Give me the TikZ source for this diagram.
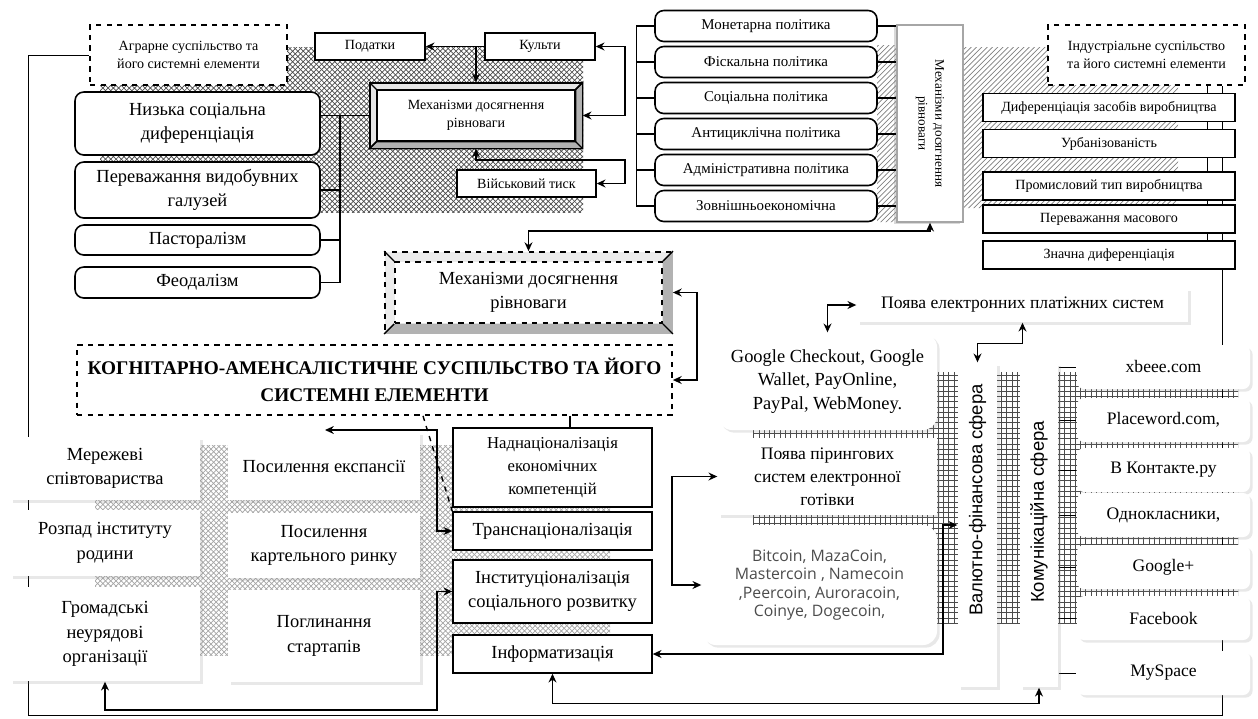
\documentclass[tikz,border=0pt]{standalone}
\usepackage{fontspec}
\setmainfont{Liberation Serif}
\newfontfamily\arialf{Liberation Sans}
\newfontfamily\opensf{Open Sans}
\usetikzlibrary{arrows.meta,calc,patterns,shadows,positioning}
\pgfdeclarelayer{back}
\pgfsetlayers{back,main}
\tikzset{
every picture/.style={line width=0.8pt},
sz/.style 2 args={minimum width=#1*0.02cm, minimum height=#2*0.02cm, inner sep=1pt},
fs/.style 2 args={font=\fontsize{#1}{#2}\selectfont},
sqbox/.style={draw, fill=white, align=center},
dashbox/.style={draw, dashed, line width=1.2pt, fill=white, align=center},
roundbox/.style={draw, fill=white, rounded corners=5pt, align=center, line width=0.9pt},
softbox/.style={fill=white, align=center, drop shadow={shadow xshift=1.5pt, shadow yshift=-1.5pt, opacity=0.18, fill=gray}},
sidetext/.style={font=\arialf\fontsize{10.5}{12}\selectfont}
}

\begin{document}
\begin{tikzpicture}[x=0.02cm, y=-0.02cm, >={Stealth[length=5pt,width=4.5pt]}]
\useasboundingbox (0,0) rectangle (1258,718);

% agrarian
\node[dashbox, sz={197}{60}, fs={8}{10}] (agr) at (188.5,55) {Аграрне суспільство та\\його системні елементи};
\node[sqbox, sz={110}{27}, fs={8}{10}] (tax) at (370,46.5) {Податки};
\node[sqbox, sz={110}{27}, fs={8}{10}] (cult) at (540,46.5) {Культи};
\node[sqbox, sz={139}{27}, fs={8}{10}] (war) at (526.5,183.5) {Військовий тиск};

\node[draw, fill=gray!20, sz={212}{65}] (mechA) at (476,115.5) {};
\fill[gray!60, draw=black] (mechA.north east) -- (mechA.south east) -- (mechA.south west) -- ++(7,-7) -- ($(mechA.south east)+(-7,-7)$) -- ($(mechA.north east)+(-7,7)$) -- cycle;
\node[draw, fill=white, sz={198}{51}, fs={8}{10.5}, align=center] (mechAtxt) at (mechA) {Механізми досягнення\\рівноваги};
\foreach \a in {north east,north west,south east,south west} \draw (mechA.\a) -- (mechAtxt.\a);

\foreach \n/\y/\h/\t in {low/123.5/63/{Низька соціальна\\диференціація}, mining/190/56/{Переважання видобувних\\галузей}, past/240/30/Пасторалізм, feud/282.5/31/Феодалізм}
  \node[roundbox, sz={245}{\h}, fs={10.5}{13.5}] (\n) at (197.5,\y) {\t};

% policies
\foreach \t [count=\i] in {Монетарна політика, Фіскальна політика, Соціальна політика, Антициклічна політика, Адміністративна політика, Зовнішньоекономічна}
  \node[roundbox, sz={222}{31}, fs={8.5}{10}] (pol\i) at (766,{26+36*(\i-1)}) {\t};
\node[draw=gray!70, fill=white, sz={66}{197}, drop shadow={shadow xshift=-1.5pt, shadow yshift=-1pt, opacity=0.3, fill=gray}] (mechV) at (930,123.5) {};
\node[rotate=-90, fs={7.5}{9.5}, align=center] at (mechV) {Механізми досягнення\\рівноваги};

% industrial
\node[dashbox, sz={197}{60}, fs={8}{10}] (ind) at (1146.5,55) {Індустріальне суспільство\\та його системні елементи};
\foreach \n/\y/\t in {ie1/107.5/Диференціація засобів виробництва, ie2/143.5/Урбанізованість, ie3/186/Промисловий тип виробництва, ie4/219/Переважання масового, ie5/255/Значна диференціація}
  \node[sqbox, line width=1.1pt, sz={252}{28}, fs={8}{10}] (\n) at (1109,\y) {\t};

% middle
\node[draw, dashed, line width=1pt, fill=gray!15, sz={287}{81}] (mechB) at (528.5,292.5) {};
\fill[gray!60] (mechB.north east) -- (mechB.south east) -- (mechB.south west) -- ++(10,-10) -- ($(mechB.south east)+(-10,-10)$) -- ($(mechB.north east)+(-10,10)$) -- cycle;
\node[draw, dashed, line width=1pt, fill=white, sz={267}{61}, fs={10.5}{14}, align=center] (mechBtxt) at (mechB) {Механізми досягнення\\рівноваги};
\foreach \a in {north east,north west,south east,south west} \draw (mechB.\a) -- (mechBtxt.\a);
\node[dashbox, line width=1pt, sz={595}{70}, font=\fontsize{11}{15}\selectfont\bfseries] (cog) at (374.5,380) {КОГНІТАРНО-АМЕНСАЛІСТИЧНЕ СУСПІЛЬСТВО ТА ЙОГО\\СИСТЕМНІ ЕЛЕМЕНТИ};

% cognitarian elements
\foreach \n/\x/\y/\w/\h/\t in {net/105/468.5/190/63/{Мережеві\\співтовариства}, exp/324/466/192/68/{Посилення експансії}, fam/105/543/190/66/{Розпад інституту\\родини}, cart/324/545.5/192/65/{Посилення\\картельного ринку}, ngo/105/634/190/94/{Громадські\\неурядові\\організації}, start/324/636/192/92/{Поглинання\\стартапів}}
  \node[softbox, sz={\w}{\h}, fs={10.5}{14}] (\n) at (\x,\y) {\t};

\node[sqbox, sz={199}{79}, fs={9.5}{13}] (supra) at (552.5,467.5) {Наднаціоналізація\\економічних\\компетенцій};
\node[sqbox, sz={199}{38}, fs={10.5}{13}] (trans) at (552.5,531) {Транснаціоналізація};
\node[sqbox, sz={199}{63}, fs={10.5}{14}] (inst) at (552.5,591.5) {Інституціоналізація\\соціального розвитку};
\node[sqbox, sz={199}{38}, fs={10.5}{13}] (inf) at (552.5,654) {Інформатизація};

% payments
\node[softbox, sz={331}{34}, fs={10}{12}] (emerge) at (1022.5,305) {Поява електронних платіжних систем};
\node[softbox, rounded corners=8pt, sz={219}{97}, fs={10.5}{13.5}] (gpay) at (827.5,381.5) {Google Checkout, Google\\Wallet, PayOnline,\\PayPal, WebMoney.};
\node[softbox, sz={219}{77}, fs={10}{13}] (p2p) at (827.5,476.5) {Поява пірингових\\систем електронної\\готівки};
\node[softbox, rounded corners=8pt, sz={235}{120}, font=\opensf\fontsize{9}{10.5}\selectfont, text=gray!60!black] (btc) at (819.5,585) {Bitcoin, MazaCoin,\\Mastercoin , Namecoin\\,Peercoin, Auroracoin,\\Coinye, Dogecoin,};

\node[softbox, sz={39}{324}] (val) at (977.5,525) {};
\node[rotate=90, sidetext] at (977.5,500) {Валютно-фінансова сфера};
\node[softbox, sz={38}{324}] (com) at (1039,525) {};
\node[rotate=90, sidetext] at (1039,512) {Комунікаційна сфера};

\foreach \t/\y [count=\i] in {xbeee.com/367, {Placeword.com,}/420, В Контакте.ру/470, {Однокласники,}/515, Google+/567, Facebook/618, MySpace/673}
  \node[softbox, rounded corners=4pt, sz={173}{44}, fs={10}{12}] (soc\i) at (1163.5,\y) {\t};

% connectors
\coordinate (bx) at (340,0);
\coordinate (rb1) at (625,115.5);
\coordinate (rb2) at (625,160);
\coordinate (cb) at (697,380);
\coordinate (cs) at (570,0);
\coordinate (ea) at (325,430);
\coordinate (eb) at (437,430);
\coordinate (cd) at (423,0);
\coordinate (il) at (437,710);
\coordinate (vb) at (943,525);
\coordinate (pb) at (672,585);

\draw[->] (cult.west) -- (tax.east);
\draw[->] (cult.west -| mechA.north) -- (mechA.north);
\draw[<->] (cult.east) -| (rb1) -- (mechA.east);
\draw[<->] (mechA.south) |- (rb2) |- (war.east);
\draw (mechA.west) -- (mechA.west -| low.east);
\draw (mechA.west -| bx) -- (feud.east -| bx);
\foreach \n in {mining,past,feud} \draw (\n.east) -- (\n.east -| bx);

\draw (pol1.west) -- ++(-18,0) |- (pol6.west);
\foreach \i in {2,...,5} \draw (pol\i.west) -- ++(-18,0);
\foreach \i in {1,...,6} \draw (pol\i.east) -- (pol\i.east -| mechV.west);

\draw[<->] (mechB.north) -- ++(0,-20) -| (mechV.south);
\draw[<->] (mechB.east) -| (cb) -- (cog.east);
\draw (cog.south -| cs) -- (supra.north -| cs);
\draw[dashed] (cog.south -| cd) -- (trans.north west);
\draw[<->] (ea) -- (eb) |- (trans.west);

\draw[<->] (inst.west) -| (il) -| (ngo.south);
\draw[<->] (inf.south) -- ++(0,30) -| (com.south);
\draw[<->] (inf.east) -| (vb) -- (val.west);
\draw[<->] (p2p.west) -| (pb) -- (btc.west);
\draw[<->] (gpay.north) |- (emerge.west);
\draw[<->] (emerge.south) -- ++(0,21) -| (val.north);

\begin{pgfonlayer}{back}
\fill[pattern=crosshatch, pattern color=black!70] (100,47) rectangle (583,212);
\fill[pattern=north east lines, pattern color=gray] (877,45) rectangle (900,222) (963,47) rectangle (1178,208);
\fill[pattern=crosshatch, pattern color=gray!70] (95,445) rectangle (610,655);
\fill[pattern=grid, pattern color=gray!60!black] (753,372) rectangle (1238,623);
\coordinate (fl) at (28,715);
\coordinate (fr) at (1222,715);
\coordinate (ib) at (1207,0);
\draw (agr.west) -| (fl) -- (fr) -- (fr |- ind.south);
\draw (ind.south -| ib) -- (ie5.east -| ib);
\foreach \i in {1,...,7} \draw (soc\i.west -| com.east) -- (soc\i.west);
\end{pgfonlayer}

\end{tikzpicture}
\end{document}
